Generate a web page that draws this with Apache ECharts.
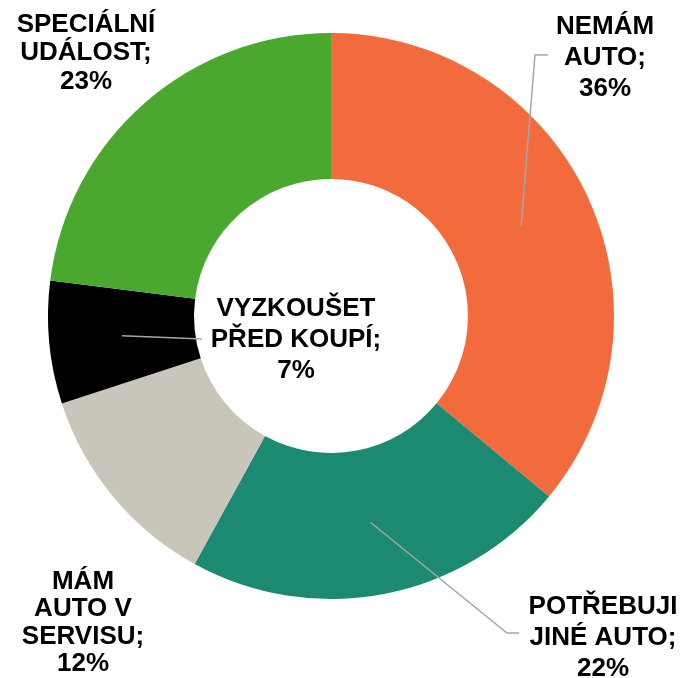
<!DOCTYPE html>
<html>
<head>
<meta charset="utf-8">
<script src="https://cdn.jsdelivr.net/npm/echarts@6/dist/echarts.min.js"></script>
<style>
  html, body { margin: 0; padding: 0; background: #fff; }
  #chart { width: 688px; height: 678px; }
</style>
</head>
<body>
<div id="chart"></div>
<script>
// data
var names = ['NEMÁM\nAUTO', 'POTŘEBUJI\nJINÉ AUTO', 'MÁM\nAUTO V\nSERVISU', 'VYZKOUŠET\nPŘED KOUPÍ', 'SPECIÁLNÍ\nUDÁLOST'];
var values = [36, 22, 12, 7, 23];
var colors = ['#F26B3C', '#1B8A71', '#C8C6BB', '#000000', '#4BA82E'];

// label placement (centre of each text block) and leader line ends
var labelPos = [[605, 58], [603, 638], [83, 623], [296, 340], [86, 53]];
var lineEnds = [
  [[535, 55], [548, 55]],
  [[507, 633], [519, 633]],
  null,
  [[202, 339], [202, 339]],
  null
];
var lineHeights = [31, 31, 27.5, 31, 28.5];

var cx = 331, cy = 316, r0 = 137, r1 = 283;

var total = 0;
for (var i in values) total += values[i];

// point in the middle of the ring for slice i
function midPoint(idx) {
  var acc = 0;
  for (var k = 0; k < idx; k++) acc += values[k];
  var a = (acc + values[idx] / 2) / total * Math.PI * 2;
  var rm = (r0 + r1) / 2;
  return [cx + rm * Math.sin(a), cy - rm * Math.cos(a)];
}

var ringData = [];
var labelData = [];
for (var j = 0; j < values.length; j++) {
  ringData.push({
    value: values[j],
    name: names[j],
    itemStyle: { color: colors[j] }
  });
  labelData.push({
    value: values[j],
    name: names[j],
    label: { lineHeight: lineHeights[j] },
    labelLine: { show: lineEnds[j] != null }
  });
}

var chart = echarts.init(document.getElementById('chart'));
chart.setOption({
  animation: false,
  series: [{
    // the ring itself
    type: 'pie',
    z: 2,
    center: [cx, cy],
    radius: [r0, r1],
    startAngle: 90,
    clockwise: true,
    label: { show: false },
    labelLine: { show: false },
    emphasis: { disabled: true },
    silent: true,
    data: ringData
  }, {
    // transparent copy on top, carries labels + leader lines over the ring
    type: 'pie',
    z: 3,
    center: [cx, cy],
    radius: [r0, r1],
    startAngle: 90,
    clockwise: true,
    avoidLabelOverlap: false,
    silent: true,
    itemStyle: { color: 'rgba(0,0,0,0)' },
    data: labelData,
    label: {
      show: true,
      position: 'outside',
      color: '#000',
      fontFamily: '"Liberation Sans", Arial, sans-serif',
      fontWeight: 'bold',
      fontSize: 26,
      align: 'center',
      formatter: function (p) {
        return p.name + ';\n' + p.value + '%';
      }
    },
    labelLine: {
      lineStyle: { color: '#A6A6A6', width: 1.5 }
    },
    emphasis: { disabled: true },
    labelLayout: function (p) {
      var idx = p.dataIndex;
      var out = {
        x: labelPos[idx][0],
        y: labelPos[idx][1],
        align: 'center',
        verticalAlign: 'middle'
      };
      if (lineEnds[idx]) {
        out.labelLinePoints = [midPoint(idx), lineEnds[idx][0], lineEnds[idx][1]];
      }
      return out;
    }
  }]
});
</script>
</body>
</html>
